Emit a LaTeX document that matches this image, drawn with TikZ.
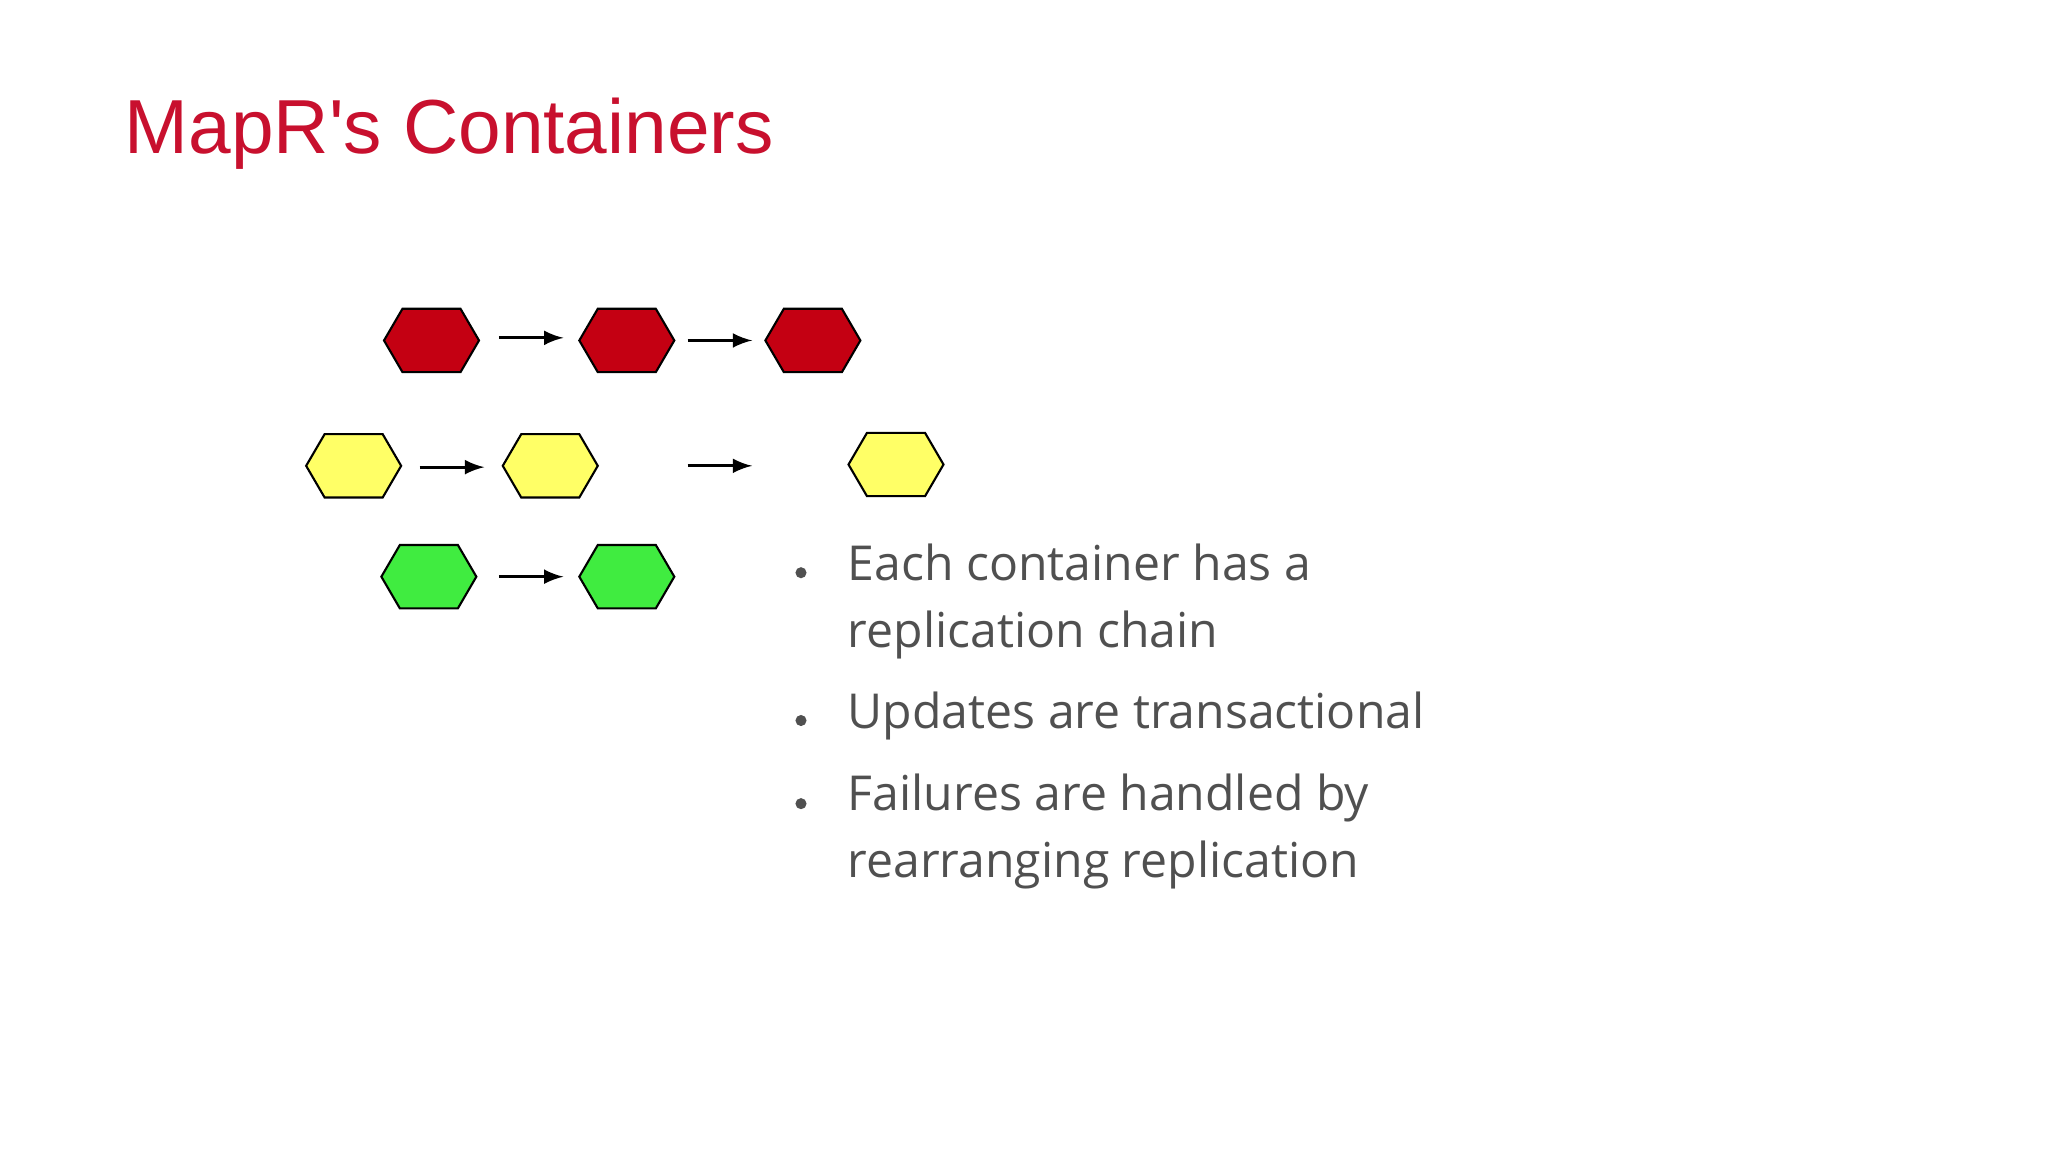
\documentclass[tikz,border=0pt]{standalone}
\usepackage{fontspec}
\setmainfont{Open Sans}
\newfontfamily\titlefont{Liberation Sans}
\definecolor{titlered}{RGB}{200,16,46}
\definecolor{hred}{RGB}{196,0,18}
\definecolor{hyel}{RGB}{255,255,102}
\definecolor{hgrn}{RGB}{64,236,64}
\definecolor{txtgray}{RGB}{80,80,80}
\tikzset{
  conn/.style={-latex,line width=0.9pt},
  hexline/.style={draw=black,line width=0.6pt},
  bullettext/.style={anchor=base west,text=txtgray,font=\fontsize{13.7}{17}\selectfont,inner sep=0pt},
}
\newcommand{\myhex}[3]{% name, color, position
  \coordinate (#1) at #3;
  \fill[#2] ([shift={(-36,0)}]#1) -- ([shift={(-22,-24)}]#1) -- ([shift={(22,-24)}]#1) -- ([shift={(36,0)}]#1) -- ([shift={(22,24)}]#1) -- ([shift={(-22,24)}]#1) -- cycle;
  \draw[hexline] ([shift={(-36,0)}]#1) -- ([shift={(-22,-24)}]#1) -- ([shift={(22,-24)}]#1) -- ([shift={(36,0)}]#1) -- ([shift={(22,24)}]#1) -- ([shift={(-22,24)}]#1) -- cycle;
}
\begin{document}
\begin{tikzpicture}[x=0.013196cm,y=-0.013196cm]
\fill[white] (0,0) rectangle (1552,873);
\useasboundingbox (0,0) rectangle (1552,873);
\node[anchor=base west,inner sep=0pt,text=titlered,font=\titlefont\fontsize{21.8}{26}\selectfont] (title) at (94,116) {MapR's Containers};
\myhex{r1}{hred}{(327,258)}
\myhex{r2}{hred}{(475,258)}
\myhex{r3}{hred}{(616,258)}
\myhex{y1}{hyel}{(268,353)}
\myhex{y2}{hyel}{(417,353)}
\myhex{y3}{hyel}{(679,352)}
\myhex{g1}{hgrn}{(325,437)}
\myhex{g2}{hgrn}{(475,437)}
\coordinate (a1s) at (378,256); \coordinate (a1e) at (427,256);
\coordinate (a2s) at (521,258); \coordinate (a2e) at (570,258);
\coordinate (a3s) at (318,354); \coordinate (a3e) at (367,354);
\coordinate (a4s) at (521,353); \coordinate (a4e) at (570,353);
\coordinate (a5s) at (378,437); \coordinate (a5e) at (427,437);
\draw[conn] (a1s) -- (a1e);
\draw[conn] (a2s) -- (a2e);
\draw[conn] (a3s) -- (a3e);
\draw[conn] (a4s) -- (a4e);
\draw[conn] (a5s) -- (a5e);
\foreach \y/\n in {434/b1,546/b2,609/b3} \fill[txtgray] (607,\y) circle (4.2) coordinate (\n);
\node[bullettext] (t1) at (642,440) {Each container has a};
\node[bullettext] (t2) at (642,491) {replication chain};
\node[bullettext] (t3) at (642,552) {Updates are transactional};
\node[bullettext] (t4) at (642,614) {Failures are handled by};
\node[bullettext] (t5) at (642,665) {rearranging replication};
\end{tikzpicture}
\end{document}
